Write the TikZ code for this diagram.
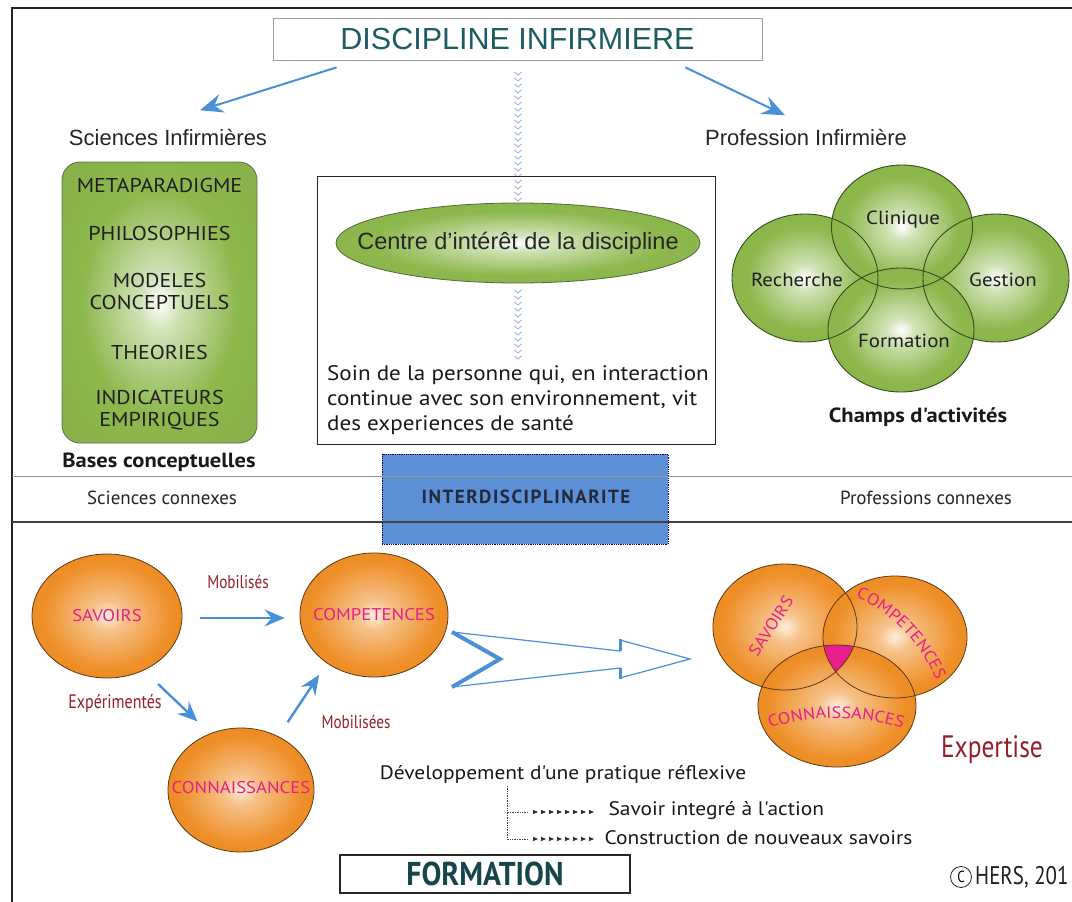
\documentclass[tikz,border=0pt]{standalone}
\usepackage{fontspec}
\setmainfont{PT Sans}
\newfontfamily\arialf{Liberation Sans}
\newfontfamily\myr[FakeStretch=1.1]{PT Sans}
\newfontfamily\ptf{PT Sans}
\newfontfamily\condf[FakeStretch=0.82]{PT Sans}
\newfontfamily\bcondf[FakeStretch=0.9]{PT Sans}
\newfontfamily\spacedf[LetterSpace=8]{PT Sans}
\usetikzlibrary{arrows.meta,shapes.geometric,decorations.text,calc}
\definecolor{teal1}{RGB}{28,92,98}
\definecolor{teal2}{RGB}{22,70,76}
\definecolor{blueA}{RGB}{74,144,217}
\definecolor{greenA}{RGB}{140,184,76}
\definecolor{greenE}{RGB}{55,75,30}
\definecolor{orangeA}{RGB}{238,142,38}
\definecolor{orangeE}{RGB}{95,55,20}
\definecolor{magT}{RGB}{232,30,140}
\definecolor{redT}{RGB}{150,32,40}
\definecolor{boxB}{RGB}{92,143,214}
\definecolor{chev}{RGB}{160,178,215}
\definecolor{frameC}{RGB}{35,35,35}
\definecolor{interT}{RGB}{35,42,60}
\pgfdeclareradialshading{greenglow}{\pgfpoint{0bp}{0bp}}{color(0bp)=(white); color(5bp)=(white!60!greenA); color(20bp)=(greenA); color(50bp)=(greenA!92!black)}
\pgfdeclareradialshading{orangeglow}{\pgfpoint{0bp}{0bp}}{color(0bp)=(white!85!orangeA); color(6bp)=(white!45!orangeA); color(22bp)=(orangeA); color(50bp)=(orangeA!92!black)}
\newcommand\fsz[1]{\fontsize{#1}{#1}\selectfont}
\newcommand\vtext{\myr\fsz{16.5}\color{magT}}
\begin{document}
\begin{tikzpicture}[x=1pt,y=1pt,
  bluearrow/.style={draw=blueA, line width=2.4pt, -{Stealth[length=20pt,width=17pt,inset=7pt]}},
  topArrow/.style={draw=blueA, line width=2pt, -{Stealth[length=23pt,width=19pt,inset=8pt]}},
  greenfill/.style={ellipse, inner sep=0pt, shade, shading=greenglow},
  greenline/.style={ellipse, inner sep=0pt, draw=greenE, line width=0.9pt},
  gtxt/.style={font=\myr\fontsize{20}{21.5}\selectfont, align=center, text=black!88},
  ctxt/.style={font=\myr\fsz{19}, text=black!88},
  arlab/.style={font=\arialf\fsz{22}, text=black!85},
  orangefill/.style={ellipse, inner sep=0pt, shade, shading=orangeglow, draw=orangeE, line width=0.8pt},
  otxt/.style={text=magT, font=\myr\fsz{17}},
  vennfill/.style={ellipse, inner sep=0pt, shade, shading=orangeglow},
  redlab/.style={text=redT, font=\condf\fsz{18.5}},
  condlab/.style={font=\ptf\fsz{19}, text=black!85},
  bodytxt/.style={font=\myr\fsz{19.5}, text=black!90},
  tip/.style={fill=black!80}
]
\useasboundingbox (0,0) rectangle (1072,-902);
\fill[white] (0,0) rectangle (1072,-902);

% outer frame
\draw[frameC, line width=1.6pt] (12,-902) -- (12,-8) -- (1072,-8);

% title
\node[draw=gray!75, line width=0.8pt, minimum width=489pt, minimum height=42pt, inner sep=0pt,
      font=\arialf\fsz{30.5}, text=teal1] (title) at (517.5,-39) {DISCIPLINE INFIRMIERE};

\node[arlab] (sci) at (168,-138) {Sciences Infirmières};
\node[arlab] (prof) at (806,-138) {Profession Infirmière};
\draw[topArrow] ([shift={(64pt,-7pt)}]title.south west) -- ([shift={(32pt,16pt)}]sci.north);
\draw[topArrow] ([shift={(-77pt,-7pt)}]title.south east) -- ([shift={(-21pt,11pt)}]prof.north);

% chevron line
\foreach \y in {72,78,...,198} \draw[chev, line width=0.9pt] (514.5,-\y) -- (518,-\y-3) -- (521.5,-\y);
\foreach \y in {290,296,...,356} \draw[chev, line width=0.9pt] (514.5,-\y) -- (518,-\y-3) -- (521.5,-\y);

% bases conceptuelles
\node[shade, shading=greenglow, draw=greenE!80, line width=0.8pt, rounded corners=18pt,
      minimum width=195pt, minimum height=281pt] (bases) at (159.5,-302.5) {};
\node[gtxt] (b1) at (159.5,-185) {METAPARADIGME};
\node[gtxt] (b2) at (159.5,-233) {PHILOSOPHIES};
\node[gtxt] (b3) at (159.5,-291.5) {MODELES\\CONCEPTUELS};
\node[gtxt] (b4) at (159.5,-352) {THEORIES};
\node[gtxt] (b5) at (159.5,-410) {INDICATEURS\\EMPIRIQUES};
\node[font=\myr\bfseries\fsz{20.5}, text=black!90] (basesl) at (159,-462) {Bases conceptuelles};

% centre box
\node[draw=black!85, line width=1pt, minimum width=398pt, minimum height=268pt] (cbox) at (516,-310) {};
\node[greenfill, draw=greenE!85, line width=0.8pt, minimum width=364pt, minimum height=80pt] (centre) at (518,-243) {};
\node[font=\arialf\fsz{23.5}, text=black!85] (centrel) at (centre.center) {Centre d’intérêt de la discipline};
\node[anchor=west, align=left, inner sep=0pt, font=\myr\fontsize{21}{25}\selectfont, text=black!90]
      (soin) at (327,-400) {Soin de la personne qui, en interaction\\continue avec son environnement, vit\\des experiences de santé};

% champs d'activites
\node[greenfill, minimum width=146pt, minimum height=128pt] (rech) at (805,-278) {};
\node[greenfill, minimum width=146pt, minimum height=128pt] (gest) at (996,-278) {};
\node[greenfill, minimum width=141pt, minimum height=124pt] (clin) at (902,-227) {};
\node[greenfill, minimum width=146pt, minimum height=124pt] (form) at (901,-330) {};
\node[greenline, minimum width=146pt, minimum height=128pt] at (rech.center) {};
\node[greenline, minimum width=146pt, minimum height=128pt] at (gest.center) {};
\node[greenline, minimum width=141pt, minimum height=124pt] at (clin.center) {};
\node[greenline, minimum width=146pt, minimum height=124pt] at (form.center) {};
\node[ctxt] (clinl) at (903,-220) {Clinique};
\node[ctxt] (rechl) at (797,-280) {Recherche};
\node[ctxt] (gestl) at (1003,-280) {Gestion};
\node[ctxt] (forml) at (904,-341) {Formation};
\node[font=\myr\bfseries\fsz{20.5}, text=black!90] (champs) at (918,-417) {Champs d'activités};

% interdisciplinarite band
\node[fill=boxB, draw=blue!35!black, densely dotted, line width=0.8pt, minimum width=286pt, minimum height=90pt] (inter) at (525,-499) {};
\draw[gray!85, line width=1pt] (12,-476) -- (1072,-476);
\draw[black!75, line width=1.5pt] (12,-522) -- (1072,-522);
\node[font=\spacedf\bfseries\fsz{19}, text=interT] (interl) at (526,-497) {INTERDISCIPLINARITE};
\node[condlab] (scon) at (162,-498) {Sciences connexes};
\node[condlab] (pcon) at (926,-498) {Professions connexes};

% formation part
\node[orangefill, minimum width=150pt, minimum height=124pt] (sav) at (107,-616) {};
\node[orangefill, minimum width=148pt, minimum height=124pt] (comp) at (374,-615) {};
\node[orangefill, minimum width=146pt, minimum height=124pt] (conn) at (241,-790) {};
\node[otxt] (savl) at (sav.center) {SAVOIRS};
\node[otxt] (compl) at (comp.center) {COMPETENCES};
\node[otxt] (connl) at ([yshift=2pt]conn.center) {CONNAISSANCES};
\draw[bluearrow] ([xshift=18pt,yshift=-2pt]sav.east) -- ([xshift=-15pt,yshift=-3pt]comp.west);
\draw[bluearrow] ([shift={(3pt,-20pt)}]sav.-45) -- ([shift={(-6pt,15pt)}]conn.125);
\draw[bluearrow] ([shift={(4pt,17pt)}]conn.50) -- ([shift={(-7pt,-12pt)}]comp.-135);
\node[redlab] (mob1) at (238,-582) {Mobilisés};
\node[redlab, font=\condf\fsz{19.5}] (exp1) at (115,-703) {Expérimentés};
\node[redlab] (mob2) at (356,-722) {Mobilisées};

% big hollow arrow
\draw[blueA, line width=1.2pt, line join=miter] (452,-632) -- (620,-651) -- (620,-640) -- (690,-659) -- (620,-678) -- (620,-668) -- (452,-687);
\draw[blueA, line width=4pt, line join=miter] (452,-632) -- (500,-659) -- (452,-687);
\draw[blueA, line width=3pt] (620,-651) -- (620,-639) (620,-679) -- (620,-668);

% venn
\node[vennfill, minimum width=144pt, minimum height=126pt] (v1) at (785,-627) {};
\node[vennfill, minimum width=144pt, minimum height=122pt] (v2) at (895,-637) {};
\node[vennfill, minimum width=158pt, minimum height=122pt] (v3) at (837,-706) {};
\begin{scope}
  \clip (v1.center) ellipse [x radius=72, y radius=63];
  \clip (v2.center) ellipse [x radius=72, y radius=61];
  \fill[magT] (v3.center) ellipse [x radius=79, y radius=61];
\end{scope}
\draw[orangeE, line width=0.8pt] (v1.center) ellipse [x radius=72, y radius=63];
\draw[orangeE, line width=0.8pt] (v2.center) ellipse [x radius=72, y radius=61];
\draw[orangeE, line width=0.8pt] (v3.center) ellipse [x radius=79, y radius=61];
\node[rotate=57, text=magT, font=\myr\fsz{16.5}] (vsav) at (771,-626) {SAVOIRS};
\path[decorate, decoration={text along path, text align=center, text={|\vtext|COMPETENCES}}]
  (791,-740) ++(70:157) arc[start angle=70, end angle=18, radius=157];
\path[decorate, decoration={text along path, text align=center, text={|\vtext|CONNAISSANCES}}]
  (836,-944) ++(112:226) arc[start angle=112, end angle=68, radius=226];
\node[text=redT, font=\condf\fsz{31}] (expert) at (992,-750) {Expertise};

% reflexive practice
\node[bodytxt] (dev) at (563,-774) {Développement d'une pratique réflexive};
\coordinate (t0) at (507,-786);
\coordinate (t1) at (528,-812);
\coordinate (t2) at (528,-839);
\draw[densely dotted, black!75, line width=0.7pt] (t0) |- (t1);
\draw[densely dotted, black!75, line width=0.7pt] (t0) |- (t2);
\foreach \yy in {812,839} {
  \foreach \x in {533,541,...,589} \fill[tip] (\x,-\yy+2.2) -- (\x+5,-\yy) -- (\x,-\yy-2.2) -- cycle;
}
\node[bodytxt, anchor=west] (sia) at (605,-811) {Savoir integré à l'action};
\node[bodytxt, anchor=west] (cns) at (601,-838) {Construction de nouveaux savoirs};

% formation title
\node[draw=black!85, line width=1.3pt, minimum width=290pt, minimum height=38pt, inner sep=0pt,
      font=\bcondf\bfseries\fsz{33}, text=teal2] (formation) at (485,-874) {FORMATION};

% copyright
\node[circle, draw=black!85, line width=0.8pt, inner sep=1pt, minimum size=21pt, font=\condf\fsz{16}] (copy) at (961,-877) {C};
\node[anchor=west, font=\condf\fsz{25.5}, text=black!88, inner sep=0pt] (hers) at (975,-877) {HERS, 201};
\end{tikzpicture}
\end{document}
